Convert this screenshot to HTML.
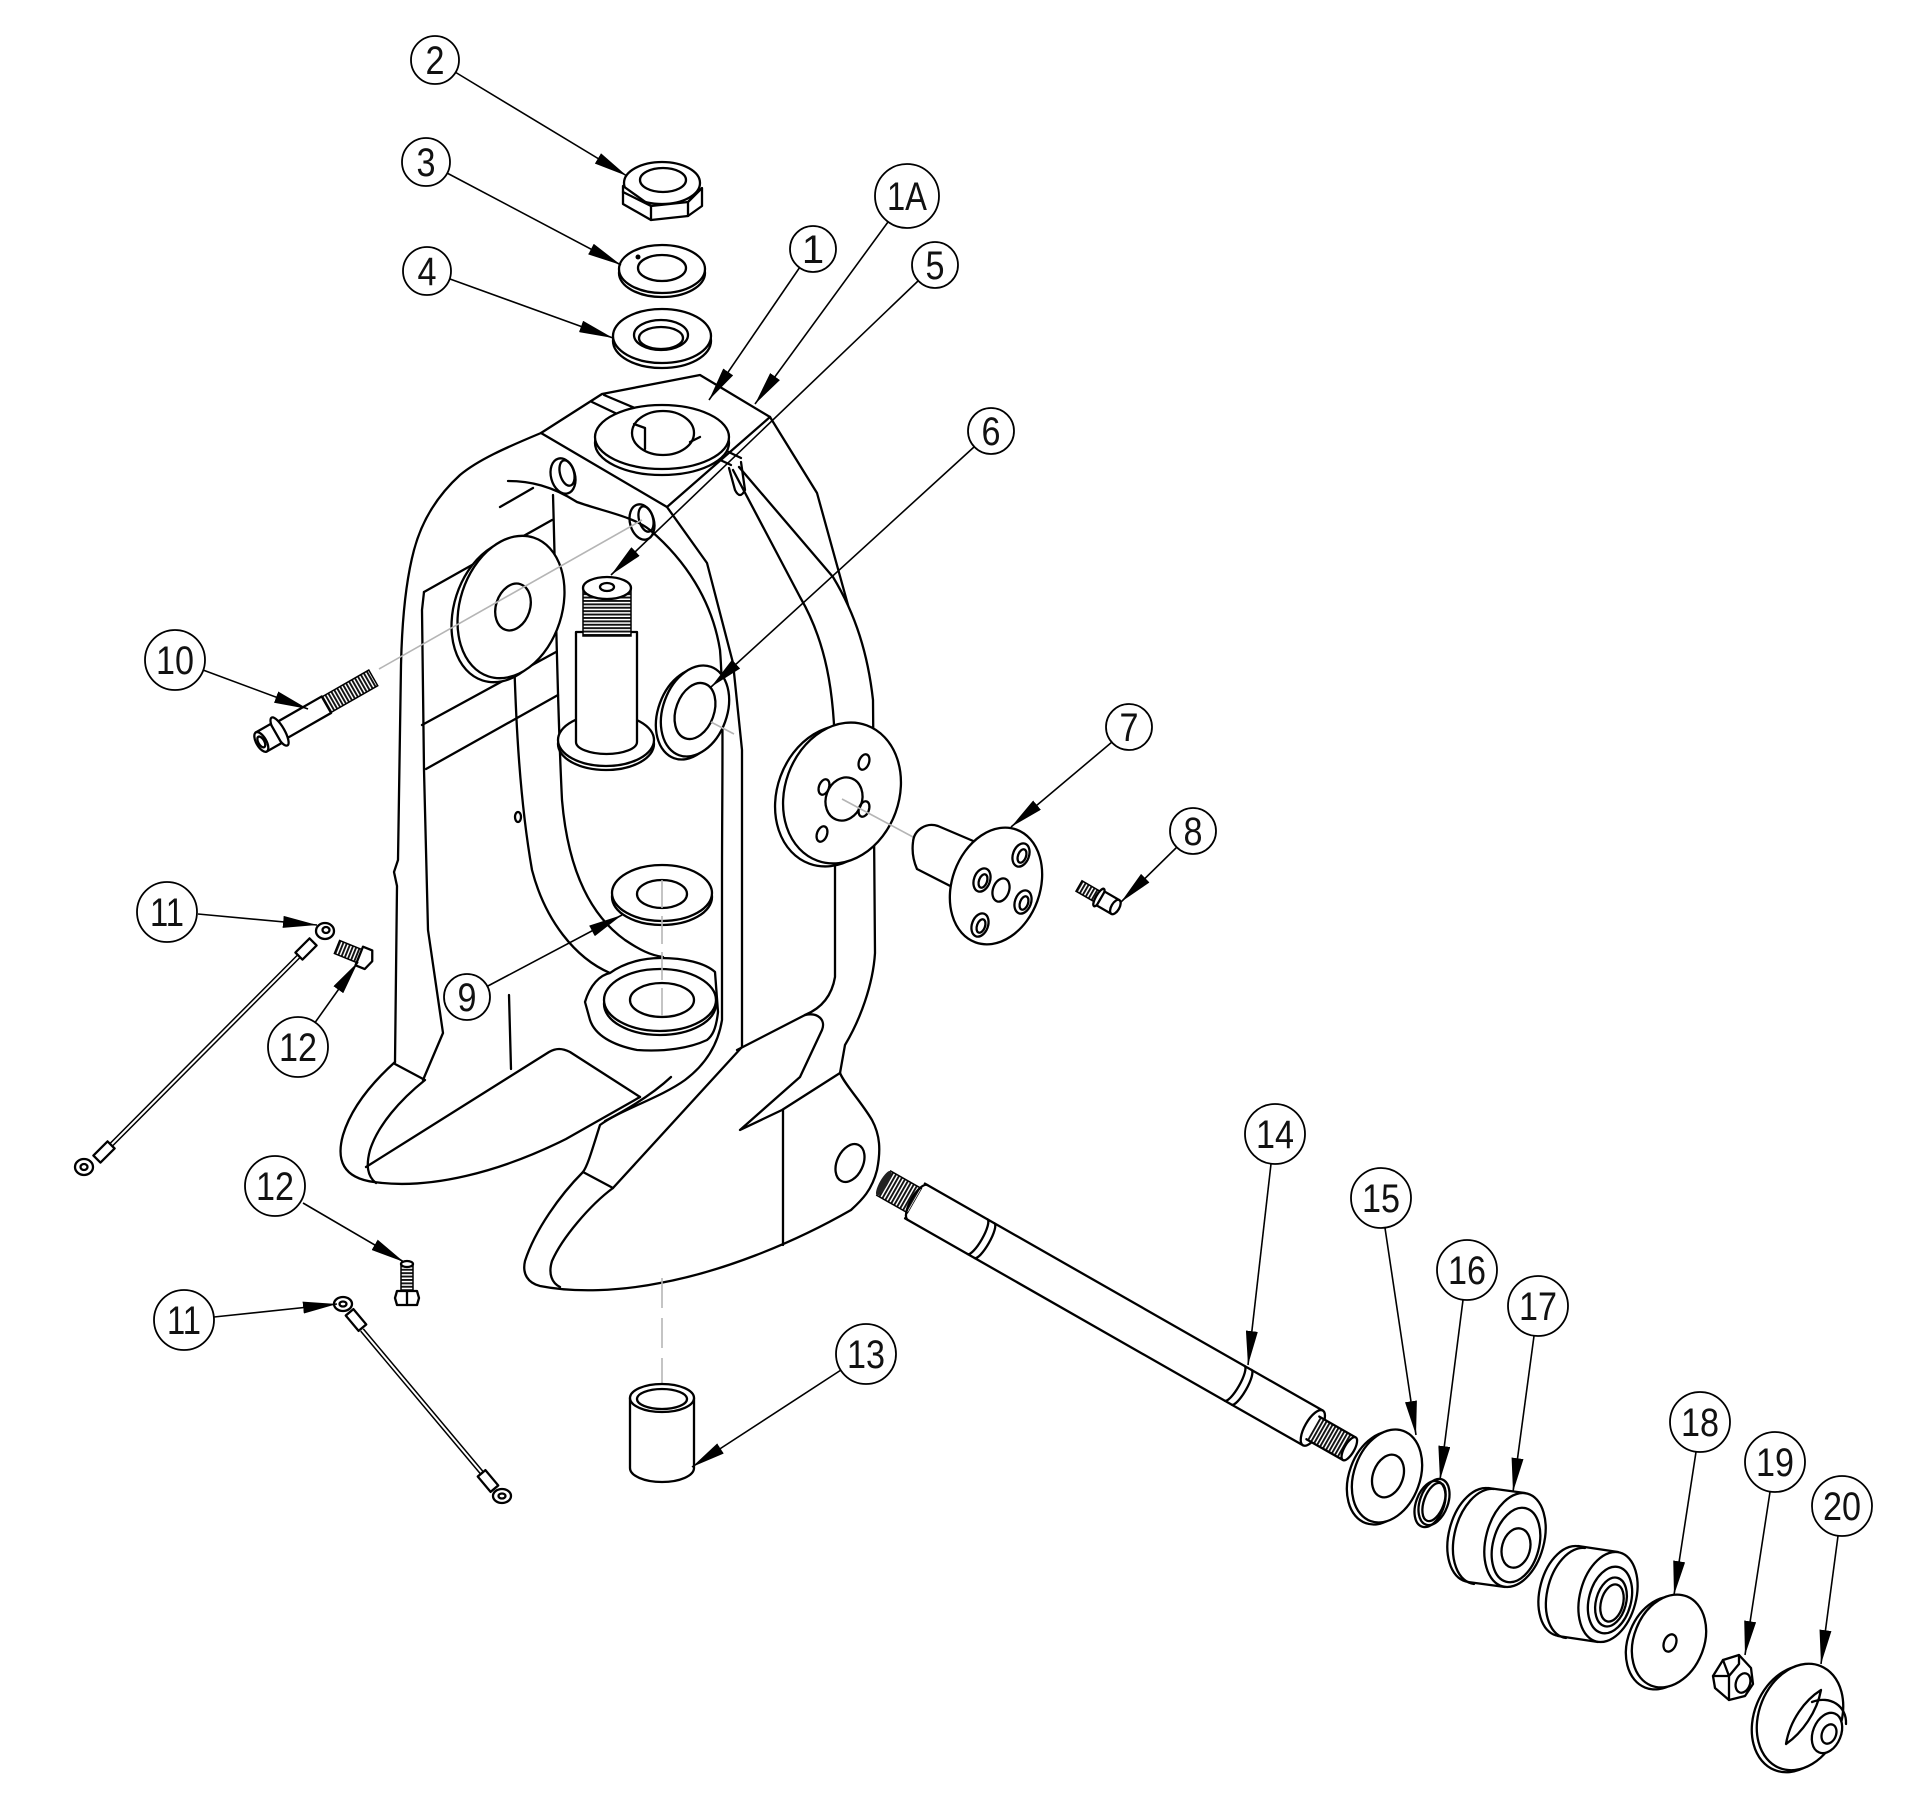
<!DOCTYPE html>
<html><head><meta charset="utf-8"><title>Exploded parts diagram</title>
<style>
html,body{margin:0;padding:0;background:#fff}
svg{display:block}
.l{fill:none;stroke:#000;stroke-width:2.3;stroke-linejoin:round;stroke-linecap:round}
.w{fill:#fff;stroke:#000;stroke-width:2.3;stroke-linejoin:round}
.ld{fill:none;stroke:#000;stroke-width:1.6}
.bc{fill:#fff;stroke:#000;stroke-width:1.8}
.bt{font-family:"Liberation Sans",Arial,sans-serif;font-size:40px;fill:#111;text-anchor:middle}
.g{fill:none;stroke:#b5b5b5;stroke-width:1.6}
</style></head><body>
<svg xmlns="http://www.w3.org/2000/svg" width="1920" height="1813" viewBox="0 0 1920 1813">
<defs>
<marker id="ar" viewBox="0 0 10 10" refX="10" refY="5" markerUnits="userSpaceOnUse" markerWidth="34" markerHeight="12" orient="auto" preserveAspectRatio="none"><path d="M0,0 L10,5 L0,10 Z" fill="#000"/></marker>
<pattern id="th" patternUnits="userSpaceOnUse" width="3.4" height="10"><rect width="3.4" height="10" fill="#fff"/><rect width="1.9" height="10" fill="#111"/></pattern>
</defs>
<rect width="1920" height="1813" fill="#fff"/>

<!-- ================= BODY ================= -->
<g class="l">
<path d="M541,433 L602,394 L700,375 L770,417 L667,507 Z"/>
<path d="M592,402 L632,421 M604,395 L642,411"/>
<path d="M690,446 L731,465 M700,438 L741,458"/>
<path d="M729,468 L735,490 Q740,500 745,490 L741,462"/>
<ellipse cx="563" cy="476" rx="12" ry="18" transform="rotate(-15 563 476)"/>
<ellipse cx="567" cy="473" rx="7" ry="13" transform="rotate(-15 567 473)"/>
<ellipse cx="642" cy="522" rx="12" ry="18" transform="rotate(-15 642 522)"/>
<ellipse cx="646" cy="519" rx="7" ry="13" transform="rotate(-15 646 519)"/>
<path d="M541,433 C505,448 478,460 460,475 C438,495 422,520 414,550 C406,580 402,620 401,665 L398,860 L394,872 L397,886 L395,1062"/>
<path d="M424,592 L422,610 L424,770 L428,930 L443,1033 L423,1080"/>
<path d="M424,592 L552,520"/>
<path d="M422,725 L556,652 M426,769 L558,695"/>
<path d="M500,507 L533,488"/>
<path d="M395,1062 C375,1080 352,1105 343,1135 C336,1160 343,1178 374,1182 C430,1190 500,1172 566,1139 L640,1097"/>
<path d="M395,1064 L425,1080 C400,1100 378,1125 370,1150 C366,1165 367,1176 376,1183"/>
<path d="M366,1167 L549,1052 C556,1048 562,1048 570,1052 L640,1097"/>
<path d="M509,995 L511,1069"/>
<path d="M512,560 C514,700 518,790 532,870 C545,920 575,958 610,973"/>
<path d="M553,495 C556,600 557,700 562,800 C568,870 590,915 625,940 C640,950 650,955 663,957"/>
<path d="M508,481 C530,481 552,486 577,502 C605,512 632,516 650,530 C685,560 712,600 720,650 C724,700 722,780 722,880 L722,1020 C718,1045 705,1065 685,1080 C660,1098 620,1110 600,1125 C592,1150 588,1165 583,1172 C560,1195 535,1230 525,1261 C522,1274 528,1283 540,1286 C575,1293 620,1291 660,1283 C720,1272 790,1245 851,1210 C862,1200 872,1190 877,1170 C881,1150 880,1135 872,1120 C860,1100 845,1085 840,1073"/>
<path d="M605,1121 C630,1108 655,1092 671,1077"/>
<path d="M770,417 L817,493 L843,587 L848,605"/>
<path d="M739,467 L833,577 C856,615 868,655 873,700 L875,953 C873,985 860,1020 845,1045 L840,1073"/>
<path d="M733,470 L800,597 C825,640 835,690 835,760 L835,977 C832,995 822,1008 805,1015"/>
<path d="M667,507 L707,563 L733,663 L742,750 L742,1047 L613,1188"/>
<path d="M583,1172 L613,1188 C590,1205 562,1238 552,1261 C548,1274 552,1283 560,1287"/>
<path d="M783,1110 L783,1245"/>
<path d="M737,1050 L805,1015 C818,1012 826,1020 822,1030 L800,1077 L740,1130 L782,1110 L840,1073"/>
<ellipse cx="850" cy="1163" rx="13" ry="20" transform="rotate(25 850 1163)"/>
<ellipse cx="518" cy="817" rx="3" ry="5"/>
</g>

<path class="w" d="M585,1002 C590,985 600,975 610,973 C625,962 645,958 660,958 C685,958 705,963 715,972 L718,1012 C716,1030 712,1036 707,1040 C690,1048 665,1052 637,1050 C612,1045 595,1035 590,1020 Z"/>
<ellipse class="w" cx="660" cy="1004" rx="56" ry="31"/>
<ellipse class="w" cx="660" cy="1000" rx="56" ry="31"/>
<ellipse class="l" cx="662" cy="1000" rx="32" ry="17"/>

<ellipse class="w" cx="662" cy="443" rx="67" ry="32"/>
<ellipse class="w" cx="662" cy="437" rx="67" ry="32"/>
<ellipse class="l" cx="663" cy="433" rx="31" ry="22"/>
<path class="l" d="M634,424 L645,428 L645,449 M690,442 L700,437"/>

<ellipse class="w" cx="505" cy="611" rx="51" ry="73" transform="rotate(18 505 611)"/>
<ellipse class="w" cx="511" cy="607" rx="51" ry="73" transform="rotate(18 511 607)"/>
<ellipse class="l" cx="513" cy="607" rx="17" ry="24" transform="rotate(18 513 607)"/>

<ellipse class="w" cx="606" cy="744" rx="48" ry="26"/>
<ellipse class="w" cx="606" cy="740" rx="48" ry="26"/>
<path class="w" d="M576,632 L576,742 A30.5,12 0 0 0 637,742 L637,632 Z"/>
<rect x="583" y="588" width="48" height="48" fill="url(#th)" transform="rotate(90 607 612)" stroke="#000" stroke-width="1.5"/>
<ellipse class="w" cx="607" cy="588" rx="24" ry="11"/>
<ellipse class="l" cx="607" cy="587" rx="7" ry="4"/>

<ellipse class="w" cx="690" cy="714" rx="32" ry="47" transform="rotate(20 690 714)"/>
<ellipse class="w" cx="695" cy="711" rx="32" ry="47" transform="rotate(20 695 711)"/>
<ellipse class="l" cx="695" cy="711" rx="19" ry="29" transform="rotate(20 695 711)"/>

<ellipse class="w" cx="662" cy="897" rx="50" ry="28"/>
<ellipse class="w" cx="662" cy="893" rx="50" ry="28"/>
<ellipse class="l" cx="662" cy="894" rx="25" ry="14"/>

<ellipse class="w" cx="834" cy="796" rx="57" ry="72" transform="rotate(20 834 796)"/>
<ellipse class="w" cx="842" cy="793" rx="57" ry="72" transform="rotate(20 842 793)"/>
<ellipse class="l" cx="844" cy="799" rx="18" ry="22" transform="rotate(20 844 799)"/>
<g class="l" stroke-width="1.8">
<ellipse cx="864" cy="762" rx="5" ry="8" transform="rotate(20 864 762)"/>
<ellipse cx="824" cy="787" rx="5" ry="8" transform="rotate(20 824 787)"/>
<ellipse cx="864" cy="809" rx="5" ry="8" transform="rotate(20 864 809)"/>
<ellipse cx="822" cy="834" rx="5" ry="8" transform="rotate(20 822 834)"/>
</g>

<path class="g" d="M379,669 L642,520"/>
<path class="g" d="M842,799 L913,837"/>
<path class="g" d="M711,722 L734,734"/>
<path class="g" d="M662,880 L662,1020" stroke-dasharray="28,8"/>
<path class="g" d="M662,1278 L662,1402" stroke-dasharray="30,10"/>

<!-- top parts -->
<ellipse class="w" cx="662" cy="183" rx="38" ry="21"/>
<path class="w" d="M623,186 L623,204 L651,220 L688,216 L702,206 L702,188 L688,202 L651,206 Z"/>
<path class="l" d="M651,206 L651,220 M688,202 L688,216 M623,192 L651,206"/>
<ellipse class="l" cx="663" cy="180" rx="23" ry="12"/>
<ellipse class="w" cx="662" cy="273" rx="43" ry="24"/>
<ellipse class="w" cx="662" cy="269" rx="43" ry="24"/>
<ellipse class="l" cx="662" cy="268" rx="24" ry="13"/>
<circle cx="638" cy="257" r="2.5" fill="#000"/>
<ellipse class="w" cx="662" cy="341" rx="49" ry="27"/>
<ellipse class="w" cx="662" cy="336" rx="49" ry="27"/>
<ellipse class="l" cx="661" cy="335" rx="27" ry="15"/>
<ellipse class="l" cx="661" cy="338" rx="22" ry="11"/>

<!-- bolt 10 -->
<g transform="translate(270,737) rotate(-29.8)">
<rect x="63" y="-9" width="56" height="18" fill="url(#th)" stroke="#000" stroke-width="1.5"/>
<path class="w" d="M10,-9.5 L65,-9.5 L65,9.5 L10,9.5 Z"/>
<ellipse class="w" cx="11" cy="0" rx="5" ry="16"/>
<path class="w" d="M-10,-11 L7,-11 L7,11 L-10,11 Z"/>
<ellipse class="w" cx="-10" cy="0" rx="5" ry="11"/>
<ellipse class="l" cx="-10" cy="0" rx="3" ry="6" stroke-width="1.4"/>
</g>
<!-- cable 11 upper -->
<path d="M300,955 L110,1146" stroke="#000" stroke-width="5" fill="none"/>
<path d="M300,955 L110,1146" stroke="#fff" stroke-width="2" fill="none"/>
<rect class="w" x="-10" y="-5" width="20" height="10" transform="translate(306,949) rotate(135)"/>
<rect class="w" x="-10" y="-5" width="20" height="10" transform="translate(104,1152) rotate(135)"/>
<ellipse class="w" cx="325" cy="931" rx="9" ry="8"/>
<ellipse class="l" cx="326" cy="930" rx="3.5" ry="3" stroke-width="1.6"/>
<ellipse class="w" cx="84" cy="1167" rx="9" ry="8"/>
<ellipse class="l" cx="84" cy="1167" rx="3.5" ry="3" stroke-width="1.6"/>
<!-- bolt 12 upper -->
<g transform="translate(337,947) rotate(22)">
<rect x="0" y="-7" width="24" height="14" fill="url(#th)" stroke="#000" stroke-width="1.5"/>
<path class="w" d="M24,-10 L34,-10 L38,0 L34,10 L24,10 Z"/>
</g>
<!-- bolt 12 lower (vertical) -->
<rect x="393" y="1272" width="28" height="12" fill="url(#th)" transform="rotate(90 407 1278)" stroke="#000" stroke-width="1.5"/>
<ellipse class="w" cx="407" cy="1264" rx="6" ry="3"/>
<path class="w" d="M397,1291 L417,1291 L419,1298 L417,1305 L397,1305 L395,1298 Z"/>
<path class="l" d="M407,1291 L407,1305" stroke-width="1.6"/>
<!-- cable 11 lower -->
<path d="M362,1330 L482,1473" stroke="#000" stroke-width="5" fill="none"/>
<path d="M362,1330 L482,1473" stroke="#fff" stroke-width="2" fill="none"/>
<rect class="w" x="-10" y="-5" width="20" height="10" transform="translate(356,1320) rotate(50)"/>
<rect class="w" x="-10" y="-5" width="20" height="10" transform="translate(488,1481) rotate(50)"/>
<ellipse class="w" cx="343" cy="1304" rx="9" ry="7"/>
<ellipse class="l" cx="343" cy="1304" rx="3.5" ry="2.5" stroke-width="1.6"/>
<ellipse class="w" cx="502" cy="1496" rx="9" ry="7"/>
<ellipse class="l" cx="502" cy="1496" rx="3.5" ry="2.5" stroke-width="1.6"/>
<!-- bushing 13 -->
<path class="w" d="M630,1398 L630,1468 A32,14 0 0 0 694,1468 L694,1398 Z"/>
<ellipse class="w" cx="662" cy="1398" rx="32" ry="14"/>
<ellipse class="l" cx="662" cy="1399" rx="25" ry="10"/>

<!-- item 7 -->
<path class="w" d="M938,826 L985,846 L962,892 L917,869 C913,860 912,850 913,842 C914,830 926,822 938,826 Z"/>
<ellipse class="w" cx="996" cy="886" rx="44" ry="60" transform="rotate(20 996 886)"/>
<g class="l" stroke-width="1.8">
<ellipse cx="1021" cy="855" rx="8" ry="12" transform="rotate(20 1021 855)"/>
<ellipse cx="1022" cy="856" rx="4" ry="7" transform="rotate(20 1022 856)"/>
<ellipse cx="982" cy="880" rx="8" ry="12" transform="rotate(20 982 880)"/>
<ellipse cx="983" cy="881" rx="4" ry="7" transform="rotate(20 983 881)"/>
<ellipse cx="1001" cy="890" rx="8" ry="12" transform="rotate(20 1001 890)"/>
<ellipse cx="1023" cy="902" rx="8" ry="12" transform="rotate(20 1023 902)"/>
<ellipse cx="1024" cy="903" rx="4" ry="7" transform="rotate(20 1024 903)"/>
<ellipse cx="980" cy="925" rx="8" ry="12" transform="rotate(20 980 925)"/>
<ellipse cx="981" cy="926" rx="4" ry="7" transform="rotate(20 981 926)"/>
</g>
<!-- bolt 8 -->
<g transform="translate(1079,886) rotate(30)">
<rect x="0" y="-6" width="21" height="12" fill="url(#th)" stroke="#000" stroke-width="1.5"/>
<ellipse class="w" cx="23" cy="0" rx="3" ry="10"/>
<path class="w" d="M25,-8 L42,-8 L42,8 L25,8 Z"/>
<ellipse class="w" cx="42" cy="0" rx="4" ry="8"/>
</g>

<!-- shaft 14 -->
<g transform="translate(915,1201) rotate(29.7)">
<rect x="-36" y="-14" width="36" height="28" fill="url(#th)" stroke="#000" stroke-width="1.5"/>
<ellipse cx="-36" cy="0" rx="4" ry="14" fill="#222"/>
<rect x="0" y="-20" width="458" height="40" fill="#fff"/>
<path class="l" d="M0,-20 L458,-20 M0,20 L458,20"/>
<path class="l" d="M3,-20 A7,20 0 0 0 3,20"/>
<path class="l" d="M72,-20 A5,20 0 0 1 72,20 M80,-20 A5,20 0 0 1 80,20"/>
<path class="l" d="M368,-20 A5,20 0 0 1 368,20 M376,-20 A5,20 0 0 1 376,20"/>
<ellipse class="w" cx="458" cy="0" rx="8" ry="20"/>
<rect x="458" y="-13" width="42" height="26" fill="url(#th)"/>
<path class="l" d="M458,-13 L500,-13 M458,13 L500,13"/>
<ellipse class="w" cx="500" cy="0" rx="5" ry="13"/>
</g>

<!-- washer 15 -->
<ellipse class="w" cx="1382" cy="1478" rx="33" ry="48" transform="rotate(20 1382 1478)"/>
<ellipse class="w" cx="1387" cy="1476" rx="33" ry="48" transform="rotate(20 1387 1476)"/>
<ellipse class="l" cx="1388" cy="1476" rx="15" ry="22" transform="rotate(20 1388 1476)"/>
<!-- ring 16 -->
<ellipse class="w" cx="1430" cy="1504" rx="14" ry="24" transform="rotate(20 1430 1504)"/>
<ellipse class="l" cx="1434" cy="1502" rx="14" ry="24" transform="rotate(20 1434 1502)"/>
<ellipse class="l" cx="1434" cy="1502" rx="10" ry="20" transform="rotate(20 1434 1502)" stroke-width="1.6"/>
<!-- bearing 17 -->
<ellipse class="w" cx="1478" cy="1535" rx="29" ry="48" transform="rotate(15 1478 1535)"/>
<polygon points="1488,1488 1525,1493 1505,1587 1468,1582" fill="#fff"/>
<path class="l" d="M1488,1488 L1525,1493 M1468,1582 L1505,1587"/>
<path class="l" d="M1494,1489 A29,48 15 0 0 1474,1584"/>
<ellipse class="w" cx="1515" cy="1540" rx="29" ry="48" transform="rotate(15 1515 1540)"/>
<ellipse class="l" cx="1516" cy="1545" rx="23" ry="38" transform="rotate(15 1516 1545)" stroke-width="1.8"/>
<ellipse class="l" cx="1516" cy="1548" rx="14" ry="20" transform="rotate(15 1516 1548)"/>
<!-- second bearing -->
<ellipse class="w" cx="1568" cy="1591" rx="28" ry="46" transform="rotate(15 1568 1591)"/>
<polygon points="1578,1546 1618,1552 1598,1642 1558,1636" fill="#fff"/>
<path class="l" d="M1578,1546 L1618,1552 M1558,1636 L1598,1642"/>
<path class="l" d="M1585,1548 A28,46 15 0 0 1566,1638"/>
<ellipse class="w" cx="1608" cy="1597" rx="28" ry="46" transform="rotate(15 1608 1597)"/>
<ellipse class="l" cx="1610" cy="1600" rx="21" ry="34" transform="rotate(15 1610 1600)"/>
<ellipse class="l" cx="1611" cy="1602" rx="15" ry="25" transform="rotate(15 1611 1602)"/>
<ellipse class="l" cx="1612" cy="1603" rx="11" ry="19" transform="rotate(15 1612 1603)" stroke-width="1.6"/>
<!-- washer 18 -->
<ellipse class="w" cx="1663" cy="1643" rx="35" ry="48" transform="rotate(22 1663 1643)"/>
<ellipse class="w" cx="1669" cy="1641" rx="35" ry="48" transform="rotate(22 1669 1641)"/>
<ellipse class="l" cx="1670" cy="1643" rx="6" ry="9" transform="rotate(22 1670 1643)"/>
<!-- nut 19 -->
<path class="w" d="M1713,1676 L1723,1660 L1739,1655 L1751,1668 L1753,1684 L1745,1696 L1729,1700 L1715,1688 Z"/>
<path class="l" d="M1723,1660 L1729,1676 L1729,1700 M1729,1676 L1713,1676 M1729,1676 L1739,1664 L1739,1655" stroke-width="1.8"/>
<ellipse class="w" cx="1743" cy="1683" rx="7" ry="10" transform="rotate(20 1743 1683)"/>
<!-- cap 20 -->
<ellipse class="w" cx="1795" cy="1719" rx="41" ry="55" transform="rotate(22 1795 1719)"/>
<ellipse class="w" cx="1800" cy="1717" rx="41" ry="55" transform="rotate(22 1800 1717)"/>
<path class="l" d="M1786,1744 C1790,1720 1805,1700 1821,1690 C1817,1712 1802,1733 1786,1744 Z"/>
<path class="l" d="M1812,1702 C1830,1695 1847,1706 1846,1724"/>
<ellipse class="w" cx="1827" cy="1733" rx="14" ry="21" transform="rotate(22 1827 1733)"/>
<ellipse class="l" cx="1829" cy="1734" rx="7" ry="10" transform="rotate(22 1829 1734)"/>

<!-- leaders -->
<g class="ld" marker-end="url(#ar)">
<path d="M455,72 L627,176"/>
<path d="M447,173 L621,265"/>
<path d="M450,279 L613,338"/>
<path d="M800,267 L709,400"/>
<path d="M888,222 L755,404"/>
<path d="M918,281 L611,575"/>
<path d="M974,447 L711,687"/>
<path d="M1112,742 L1011,827"/>
<path d="M1177,847 L1121,902"/>
<path d="M486,987 L622,915"/>
<path d="M203,670 L308,709"/>
<path d="M198,914 L317,925"/>
<path d="M314,1024 L358,962"/>
<path d="M303,1203 L404,1262"/>
<path d="M214,1317 L337,1304"/>
<path d="M841,1370 L692,1467"/>
<path d="M1271,1164 L1248,1365"/>
<path d="M1385,1228 L1416,1435"/>
<path d="M1463,1300 L1440,1480"/>
<path d="M1534,1336 L1513,1492"/>
<path d="M1696,1452 L1674,1595"/>
<path d="M1770,1492 L1745,1655"/>
<path d="M1838,1536 L1821,1664"/>
</g>

<!-- balloons -->
<g>
<circle class="bc" cx="435" cy="60" r="24"/><text class="bt" x="435" y="74" textLength="19" lengthAdjust="spacingAndGlyphs">2</text>
<circle class="bc" cx="426" cy="162" r="24"/><text class="bt" x="426" y="176" textLength="19" lengthAdjust="spacingAndGlyphs">3</text>
<circle class="bc" cx="427" cy="271" r="24"/><text class="bt" x="427" y="285" textLength="19" lengthAdjust="spacingAndGlyphs">4</text>
<circle class="bc" cx="813" cy="249" r="23"/><text class="bt" x="813" y="263">1</text>
<circle class="bc" cx="907" cy="196" r="32"/><text class="bt" x="907" y="210" textLength="40" lengthAdjust="spacingAndGlyphs">1A</text>
<circle class="bc" cx="935" cy="265" r="23"/><text class="bt" x="935" y="279" textLength="19" lengthAdjust="spacingAndGlyphs">5</text>
<circle class="bc" cx="991" cy="431" r="23"/><text class="bt" x="991" y="445" textLength="19" lengthAdjust="spacingAndGlyphs">6</text>
<circle class="bc" cx="1129" cy="727" r="23"/><text class="bt" x="1129" y="741" textLength="19" lengthAdjust="spacingAndGlyphs">7</text>
<circle class="bc" cx="1193" cy="831" r="23"/><text class="bt" x="1193" y="845" textLength="19" lengthAdjust="spacingAndGlyphs">8</text>
<circle class="bc" cx="467" cy="997" r="23"/><text class="bt" x="467" y="1011" textLength="19" lengthAdjust="spacingAndGlyphs">9</text>
<circle class="bc" cx="175" cy="660" r="30"/><text class="bt" x="175" y="674" textLength="38" lengthAdjust="spacingAndGlyphs">10</text>
<circle class="bc" cx="167" cy="912" r="30"/><text class="bt" x="167" y="926" textLength="34" lengthAdjust="spacingAndGlyphs">11</text>
<circle class="bc" cx="298" cy="1047" r="30"/><text class="bt" x="298" y="1061" textLength="38" lengthAdjust="spacingAndGlyphs">12</text>
<circle class="bc" cx="275" cy="1186" r="30"/><text class="bt" x="275" y="1200" textLength="38" lengthAdjust="spacingAndGlyphs">12</text>
<circle class="bc" cx="184" cy="1320" r="30"/><text class="bt" x="184" y="1334" textLength="34" lengthAdjust="spacingAndGlyphs">11</text>
<circle class="bc" cx="866" cy="1354" r="30"/><text class="bt" x="866" y="1368" textLength="38" lengthAdjust="spacingAndGlyphs">13</text>
<circle class="bc" cx="1275" cy="1134" r="30"/><text class="bt" x="1275" y="1148" textLength="38" lengthAdjust="spacingAndGlyphs">14</text>
<circle class="bc" cx="1381" cy="1198" r="30"/><text class="bt" x="1381" y="1212" textLength="38" lengthAdjust="spacingAndGlyphs">15</text>
<circle class="bc" cx="1467" cy="1270" r="30"/><text class="bt" x="1467" y="1284" textLength="38" lengthAdjust="spacingAndGlyphs">16</text>
<circle class="bc" cx="1538" cy="1306" r="30"/><text class="bt" x="1538" y="1320" textLength="38" lengthAdjust="spacingAndGlyphs">17</text>
<circle class="bc" cx="1700" cy="1422" r="30"/><text class="bt" x="1700" y="1436" textLength="38" lengthAdjust="spacingAndGlyphs">18</text>
<circle class="bc" cx="1775" cy="1462" r="30"/><text class="bt" x="1775" y="1476" textLength="38" lengthAdjust="spacingAndGlyphs">19</text>
<circle class="bc" cx="1842" cy="1506" r="30"/><text class="bt" x="1842" y="1520" textLength="38" lengthAdjust="spacingAndGlyphs">20</text>
</g>
</svg>
</body></html>
